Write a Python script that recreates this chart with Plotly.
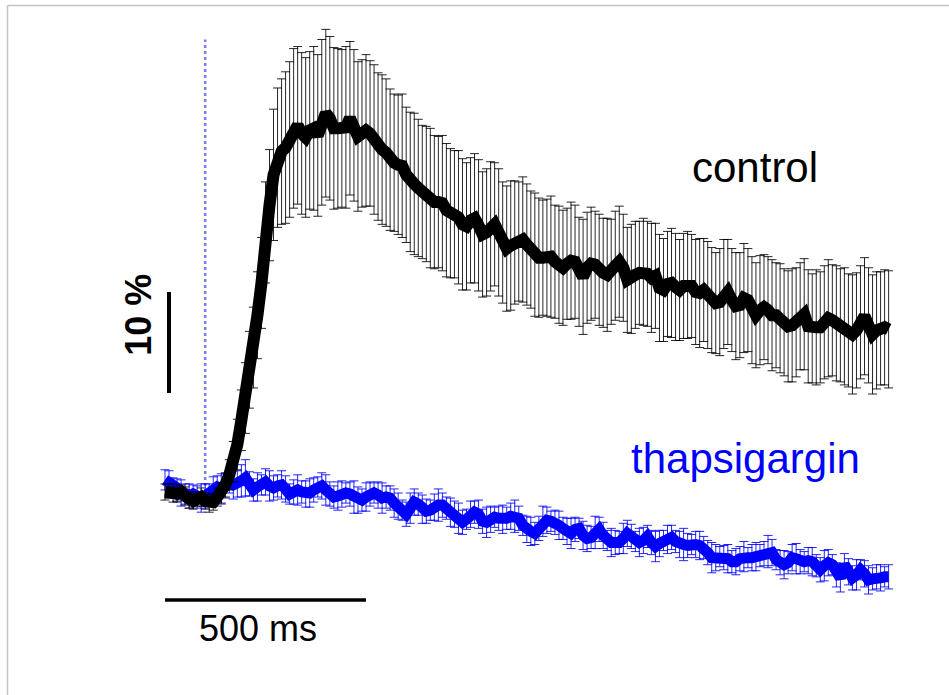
import plotly.graph_objects as go

# time axis (ms), sampled every 10 ms
time_ms = list(range(0, 1810, 10))

control_mean = [
    0.0, 0.1, -0.1, -0.2, 0.0, -0.4, -0.8, -0.9, -0.7, -0.5,
    -0.9, -1.1, -1.0, -0.5, -0.1, 0.7, 1.7, 3.0, 4.7, 7.1,
    9.3, 12.1, 14.3, 17.5, 20.7, 25.7, 28.4, 31.4, 33.1, 33.7,
    34.1, 34.9, 36.0, 36.3, 35.5, 35.1, 35.8, 36.0, 35.3, 36.6,
    37.5, 37.0, 36.0, 36.0, 36.0, 36.1, 37.0, 36.3, 35.2, 35.5,
    35.8, 35.5, 34.9, 34.2, 33.9, 33.6, 32.9, 32.6, 32.4, 32.3,
    31.4, 30.7, 30.5, 30.1, 29.7, 29.5, 29.1, 28.7, 28.7, 28.6,
    27.9, 27.6, 27.5, 27.2, 26.5, 26.3, 26.9, 27.1, 26.4, 25.5,
    25.7, 26.3, 26.5, 25.7, 24.7, 24.1, 24.4, 24.7, 24.8, 25.0,
    24.5, 24.0, 23.5, 23.2, 23.2, 23.2, 23.3, 22.8, 22.5, 22.2,
    22.6, 22.9, 22.8, 21.8, 21.3, 22.2, 22.6, 22.5, 22.0, 21.7,
    21.5, 21.8, 22.4, 22.8, 22.2, 21.0, 21.1, 21.5, 21.7, 21.8,
    21.6, 21.2, 21.4, 20.2, 20.0, 20.6, 20.7, 20.3, 20.0, 20.4,
    20.5, 20.4, 19.8, 19.7, 20.0, 19.5, 19.0, 18.7, 18.8, 19.6,
    19.8, 19.0, 18.4, 18.5, 19.2, 19.0, 18.0, 17.5, 18.0, 18.3,
    18.0, 17.5, 17.5, 17.2, 16.8, 16.4, 16.5, 16.8, 17.4, 17.6,
    16.4, 16.2, 16.3, 16.3, 16.8, 17.2, 17.0, 16.7, 16.5, 16.4,
    16.0, 15.6, 16.0, 16.8, 17.4, 16.5, 15.6, 16.0, 16.2, 16.3,
    16.1,
]

control_sem = [
    0.8, 0.7, 0.9, 0.8, 0.7, 0.9, 0.8, 0.8, 0.7, 0.9,
    0.8, 0.9, 0.8, 0.9, 1.0, 1.2, 1.5, 2.0, 2.5, 3.0,
    3.5, 3.8, 4.0, 4.3, 4.5, 5.0, 5.5, 6.5, 6.9, 7.2,
    7.5, 7.7, 7.9, 7.8, 8.0, 7.9, 7.8, 8.1, 8.0, 8.2,
    8.3, 8.1, 8.0, 7.9, 7.8, 8.0, 7.6, 7.5, 7.4, 7.3,
    7.5, 7.2, 7.4, 7.3, 7.4, 7.3, 7.0, 6.8, 6.9, 7.1,
    6.7, 6.9, 7.0, 6.8, 6.6, 6.7, 6.9, 6.6, 6.5, 6.7,
    6.6, 6.4, 6.3, 6.6, 6.5, 6.3, 6.2, 6.4, 6.5, 6.2,
    6.3, 6.4, 6.1, 6.3, 6.0, 6.2, 6.4, 6.1, 5.9, 6.2,
    6.0, 5.8, 6.1, 5.9, 5.7, 5.8, 6.0, 5.6, 5.8, 5.7,
    5.5, 5.8, 5.6, 5.4, 5.7, 5.5, 5.6, 5.3, 5.5, 5.4,
    5.6, 5.2, 5.4, 5.5, 5.3, 5.2, 5.4, 5.3, 5.1, 5.3,
    5.2, 5.4, 5.2, 5.3, 5.1, 5.2, 5.4, 5.3, 5.0, 5.2,
    5.3, 5.1, 5.2, 5.4, 5.1, 5.3, 5.2, 5.0, 5.3, 5.4,
    5.2, 5.1, 5.3, 5.2, 5.4, 5.1, 5.3, 5.2, 5.4, 5.2,
    5.3, 5.5, 5.2, 5.4, 5.3, 5.5, 5.6, 5.4, 5.3, 5.5,
    5.6, 5.4, 5.7, 5.5, 5.6, 5.8, 5.5, 5.7, 5.6, 5.8,
    5.6, 5.9, 5.7, 5.6, 5.8, 5.7, 5.9, 5.8, 5.6, 5.7,
    5.8,
]

thaps_mean = [
    1.2, 0.9, 0.5, 0.2, -0.1, -0.2, -0.4, -0.2, -0.5, -0.6,
    -0.4, -0.2, 0.2, 0.5, 0.3, 0.6, 0.9, 0.7, 0.8, 1.1,
    1.4, 0.8, 0.2, 0.5, 0.7, 1.0, 0.6, 0.4, 0.6, 0.7,
    0.3, -0.2, 0.0, 0.2, 0.0, -0.2, -0.1, 0.2, 0.5, 0.6,
    0.2, -0.2, -0.5, -0.4, -0.2, -0.1, -0.2, -0.5, -0.8, -0.8,
    -0.5, -0.2, -0.1, -0.3, -0.6, -0.5, -0.6, -1.1, -1.4, -1.8,
    -2.2, -1.6, -1.0, -1.2, -1.7, -1.9, -1.8, -1.5, -1.3, -1.3,
    -1.6, -2.0, -2.2, -2.6, -3.0, -2.7, -2.2, -2.0, -2.2, -2.9,
    -3.0, -2.7, -2.5, -2.6, -2.7, -2.6, -2.4, -2.4, -2.6, -3.3,
    -3.7, -3.9, -4.1, -3.6, -2.9, -2.8, -2.9, -3.0, -3.3, -3.6,
    -3.9, -4.1, -3.7, -3.6, -4.3, -4.6, -4.5, -4.0, -3.7, -4.3,
    -4.8, -5.0, -5.0, -5.0, -4.6, -4.1, -4.4, -4.9, -5.0, -4.8,
    -4.4, -5.0, -5.4, -5.1, -4.8, -4.7, -4.5, -4.9, -5.2, -5.2,
    -5.3, -5.2, -5.2, -5.3, -5.5, -6.0, -6.5, -6.5, -6.4, -6.5,
    -6.6, -6.9, -6.9, -6.6, -6.4, -6.5, -6.5, -6.4, -6.3, -6.1,
    -5.9, -6.0, -6.7, -7.0, -7.2, -7.0, -6.5, -6.6, -6.9, -6.9,
    -6.8, -6.9, -7.3, -7.7, -7.3, -7.0, -7.2, -8.2, -8.5, -7.2,
    -7.9, -8.5, -8.2, -7.7, -8.1, -8.7, -8.6, -8.4, -8.5, -8.4,
    -8.4,
]

thaps_sem = [
    1.0, 1.2, 0.9, 1.1, 1.3, 1.0, 1.2, 0.9, 1.1, 1.4,
    1.2, 1.0, 1.3, 1.1, 1.5, 1.2, 1.0, 1.4, 1.3, 1.6,
    1.8, 1.2, 1.1, 1.4, 1.0, 1.3, 1.5, 1.2, 1.1, 1.4,
    1.3, 1.0, 1.2, 1.5, 1.1, 1.3, 1.4, 1.2, 1.0, 1.3,
    1.5, 1.2, 1.1, 1.4, 1.3, 1.0, 1.2, 1.6, 1.3, 1.1,
    1.4, 1.2, 1.0, 1.3, 1.5, 1.1, 1.2, 1.4, 1.3, 1.0,
    1.2, 1.5, 1.3, 1.1, 1.4, 1.2, 1.0, 1.3, 1.6, 1.2,
    1.1, 1.4, 1.3, 1.5, 1.2, 1.0, 1.3, 1.1, 1.4, 1.2,
    1.5, 1.3, 1.0, 1.2, 1.4, 1.1, 1.3, 1.6, 1.2, 1.0,
    1.3, 1.4, 1.1, 1.2, 1.5, 1.3, 1.0, 1.2, 1.4, 1.1,
    1.3, 1.5, 1.2, 1.0, 1.4, 1.3, 1.1, 1.6, 1.2, 1.3,
    1.0, 1.4, 1.2, 1.1, 1.5, 1.3, 1.2, 1.0, 1.4, 1.3,
    1.1, 1.2, 1.5, 1.3, 1.0, 1.4, 1.2, 1.1, 1.3, 1.6,
    1.2, 1.0, 1.3, 1.4, 1.1, 1.2, 1.5, 1.3, 1.0, 1.2,
    1.4, 1.1, 1.3, 1.2, 1.5, 1.0, 1.3, 1.4, 1.1, 1.2,
    1.6, 1.3, 1.0, 1.2, 1.4, 1.1, 1.3, 1.5, 1.2, 1.0,
    1.3, 1.4, 1.1, 1.2, 1.5, 1.3, 1.0, 1.2, 1.4, 1.1,
    1.3, 1.2, 1.5, 1.0, 1.3, 1.4, 1.1, 1.2, 1.3, 1.0,
    1.2,
]

series_labels = ["control", "thapsigargin"]
stimulus_ms = 100
scale_time_ms = 500
scale_pct = 10

FONT = "Arial, 'Liberation Sans', sans-serif"
BLUE = "#0000ff"

fig = go.Figure()

# stimulus marker
fig.add_shape(type="line", xref="x", yref="y", x0=stimulus_ms, x1=stimulus_ms,
              y0=0, y1=44.8, line=dict(color="#7a7aff", width=2.5, dash="dot"), layer="below")

fig.add_trace(go.Scatter(
    x=time_ms, y=thaps_mean, mode="lines", name=series_labels[1],
    line=dict(color=BLUE, width=11),
    error_y=dict(type="data", array=thaps_sem, visible=True,
                 color="rgba(0,0,255,0.85)", thickness=1, width=4.5),
))
fig.add_trace(go.Scatter(
    x=time_ms, y=control_mean, mode="lines", name=series_labels[0],
    line=dict(color="black", width=12),
    error_y=dict(type="data", array=control_sem, visible=True,
                 color="rgba(0,0,0,0.85)", thickness=1, width=4.5),
))

# scale bars
fig.add_shape(type="line", xref="x", yref="y", x0=10, x1=10,
              y0=9.8, y1=9.8 + scale_pct, line=dict(color="black", width=4))
fig.add_shape(type="line", xref="x", yref="y", x0=0, x1=scale_time_ms,
              y0=-10.7, y1=-10.7, line=dict(color="black", width=3.5))

fig.add_annotation(x=231, y=-13.5, xref="x", yref="y", text=f"{scale_time_ms} ms",
                   showarrow=False, font=dict(family=FONT, size=36, color="black"),
                   xanchor="center", yanchor="middle")
fig.add_annotation(x=-66, y=17.6, xref="x", yref="y", text=f"<b>{scale_pct} %</b>",
                   showarrow=False, textangle=-90,
                   font=dict(family=FONT, size=36, color="black"),
                   xanchor="center", yanchor="middle")
fig.add_annotation(x=1468, y=32.1, xref="x", yref="y", text=series_labels[0],
                   showarrow=False, font=dict(family=FONT, size=42, color="black"),
                   xanchor="center", yanchor="middle")
fig.add_annotation(x=1445, y=3.3, xref="x", yref="y", text=series_labels[1],
                   showarrow=False, font=dict(family=FONT, size=42, color=BLUE),
                   xanchor="center", yanchor="middle")

# figure frame (top and left edges)
fig.add_shape(type="line", xref="paper", yref="paper", x0=7.5 / 949, x1=1,
              y0=1 - 5.5 / 695, y1=1 - 5.5 / 695, line=dict(color="#c4c4c4", width=1.5))
fig.add_shape(type="line", xref="paper", yref="paper", x0=7.5 / 949, x1=7.5 / 949,
              y0=0, y1=1 - 5.5 / 695, line=dict(color="#c4c4c4", width=1.5))

fig.update_layout(
    width=949, height=695,
    margin=dict(l=0, r=0, t=0, b=0),
    paper_bgcolor="white", plot_bgcolor="white",
    showlegend=False,
    xaxis=dict(visible=False, range=[-410.4, 1950.2]),
    yaxis=dict(visible=False, range=[-20.1, 48.71]),
)

fig.write_html("out.html", config={"displayModeBar": False},
               post_script="document.body.style.margin='0px';")
